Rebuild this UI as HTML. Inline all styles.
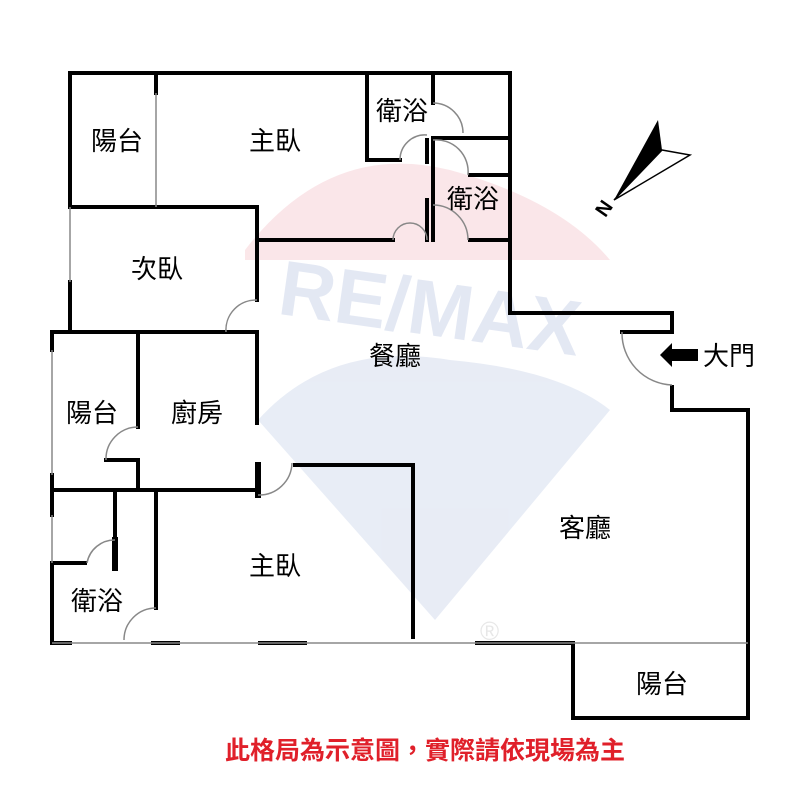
<!DOCTYPE html>
<html><head><meta charset="utf-8"><style>
html,body{margin:0;padding:0;background:#fff}
svg{display:block}
text{font-family:"Liberation Sans","Noto Sans CJK TC",sans-serif}
</style></head><body>
<svg width="800" height="800" viewBox="0 0 800 800" xmlns="http://www.w3.org/2000/svg">
<g opacity="0.45">
<path d="M245 250 Q330 140 450 170 Q560 200 610 260 L245 260 Z" fill="#f6c9cf"/>
<path d="M258 420 Q330 340 450 360 Q560 370 610 410 L435 620 Z" fill="#cdd6ea"/>
<text x="430" y="335" font-size="78" font-weight="bold" fill="#c3cde6" text-anchor="middle" font-family="Liberation Sans, sans-serif" transform="rotate(8 430 310)">RE/MAX</text>
<text x="480" y="640" font-size="26" fill="#ccc">®</text>
</g>
<g fill="none" stroke="#000" stroke-width="4" stroke-linecap="square">
<polyline points="70,207 70,73 510,73 510,313 672,313 672,332 622,332"/>
<polyline points="672,387 672,410 748,410 748,718 573,718 573,643 477,643"/>
<line x1="70" y1="282" x2="70" y2="330"/>
<line x1="156" y1="75" x2="156" y2="93"/>
<polyline points="70,207 257,207 257,300"/>
<polyline points="257,240 393,240"/>
<polyline points="367,73 367,160 400,160"/>
<line x1="433" y1="73" x2="433" y2="103"/>
<polyline points="433,240 433,138 508,138"/>
<line x1="427" y1="140" x2="427" y2="162"/>
<line x1="427" y1="200" x2="427" y2="240"/>
<line x1="470" y1="175" x2="508" y2="175"/>
<line x1="470" y1="240" x2="508" y2="240"/>
<polyline points="52,350 52,332 257,332 257,423"/>
<polyline points="138,332 138,427"/>
<polyline points="106,460 138,460 138,490"/>
<polyline points="52,490 258,490"/>
<line x1="258" y1="465" x2="258" y2="495" stroke-width="6"/>
<polyline points="295,465 413,465 413,637"/>
<polyline points="156,492 156,608"/>
<line x1="115" y1="492" x2="115" y2="568"/>
<line x1="115" y1="540" x2="115" y2="568" stroke-width="6"/>
<polyline points="85,563 52,563 52,643 70,643"/>
<line x1="52" y1="475" x2="52" y2="515"/>
<line x1="153" y1="643" x2="178" y2="643"/>
<line x1="260" y1="643" x2="305" y2="643"/>
</g>
<g fill="none" stroke="#888" stroke-width="1.5">
<line x1="156" y1="93" x2="156" y2="207"/>
<line x1="70" y1="207" x2="70" y2="282"/>
<line x1="52" y1="350" x2="52" y2="475"/>
<line x1="52" y1="515" x2="52" y2="563"/>
<line x1="52" y1="643" x2="748" y2="643"/>
<path d="M622,332 A52,52 0 0 0 672,385"/>
<path d="M400,160 A25,25 0 0 1 427,135"/>
<path d="M433,103 A30,30 0 0 1 463,133"/>
<path d="M393,240 A17,17 0 0 1 427,240"/>
<path d="M433,140 A32,32 0 0 1 468,175"/>
<path d="M433,205 A35,35 0 0 1 468,240"/>
<path d="M257,300 A30,30 0 0 0 226,332"/>
<path d="M138,427 A32,32 0 0 0 106,460"/>
<path d="M258,495 A33,33 0 0 0 292,463"/>
<path d="M115,540 A28,28 0 0 0 87,563"/>
<path d="M156,608 A32,32 0 0 0 124,640"/>
</g>
<polygon points="658,120 662,150 614,200" fill="#000"/>
<polygon points="662,150 690,155 614,200" fill="#fff" stroke="#000" stroke-width="1.5"/>
<text x="598" y="220" font-size="20" font-weight="bold" transform="rotate(-55 600 212)">N</text>
<polygon points="660,355 672,343 672,349 698,349 698,361 672,361 672,367" fill="#000"/>
<g font-size="26" fill="#000" text-anchor="middle">
<text x="117" y="150">陽台</text>
<text x="275" y="150">主臥</text>
<text x="402" y="120">衛浴</text>
<text x="473" y="208">衛浴</text>
<text x="157" y="278">次臥</text>
<text x="395" y="365">餐廳</text>
<text x="729" y="365">大門</text>
<text x="92" y="422">陽台</text>
<text x="197" y="422">廚房</text>
<text x="275" y="575">主臥</text>
<text x="97" y="610">衛浴</text>
<text x="585" y="537">客廳</text>
<text x="662" y="693">陽台</text>
</g>
<text x="425" y="759" font-size="25" font-weight="bold" fill="#e0202a" text-anchor="middle">此格局為示意圖，實際請依現場為主</text>
</svg>
</body></html>
